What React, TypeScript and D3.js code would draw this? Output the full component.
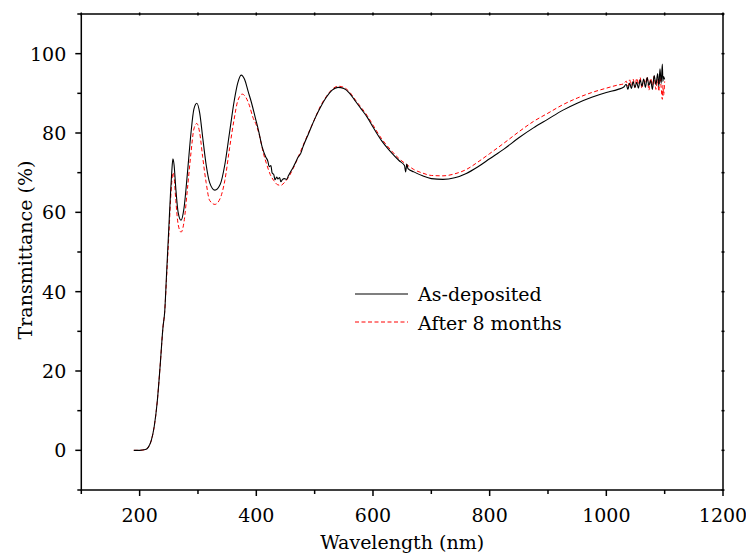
import React from "react";
import * as d3 from "d3";

const asDepW = [190, 200, 210, 215, 220, 225, 230, 235, 240, 243, 246, 250, 253, 255, 257, 259, 262, 266, 271, 276, 282, 288, 293, 298, 303, 308, 314, 320, 329, 338, 346, 354, 362, 368, 374, 380, 386, 392, 398, 404, 410, 416, 420, 422, 425, 427, 430, 432, 435, 437, 440, 442, 445, 448, 452, 455, 459, 463, 467, 472, 476, 480, 490, 500, 510, 520, 530, 540, 550, 560, 570, 580, 590, 600, 615, 630, 645, 654, 656, 658, 660, 670, 685, 700, 720, 740, 760, 780, 800, 825, 850, 875, 900, 925, 950, 975, 1000, 1020, 1030, 1034, 1037, 1040, 1043, 1046, 1049, 1052, 1055, 1058, 1061, 1064, 1067, 1070, 1073, 1076, 1079, 1082, 1085, 1088, 1090, 1092, 1094, 1096, 1097, 1098, 1100];
const asDepT = [0, 0, 0.2, 0.8, 2.5, 6, 12, 21, 31, 35, 44, 56, 65, 70, 73.5, 72, 66, 60, 58, 61, 70, 80, 86, 87.5, 85, 79, 72, 67.5, 65.6, 67, 72, 80, 88, 92.5, 94.6, 93.5, 90.5, 87.5, 84, 80.5, 76.5, 74, 72.8, 71.5, 71.8, 70, 69.5, 68.2, 68.9, 68.4, 68.8, 67.7, 68.3, 68.5, 68.3, 69.2, 70.3, 71.3, 72.5, 74, 74.8, 76.5, 80, 83.5, 86.5, 89, 90.8, 91.5, 91.2, 90, 88, 86, 84, 81.5, 78, 75.3, 73, 71.8, 70.2, 72.2, 71, 70.2, 69.2, 68.5, 68.3, 68.7, 69.8, 71.5, 73.5, 76, 78.8, 81.3, 83.5, 85.7, 87.5, 89, 90.2, 91, 91.6, 92.3, 91.0, 92.6, 91.2, 93.0, 91.4, 92.8, 91.3, 93.4, 91.8, 93.6, 91.5, 94.0, 92.0, 93.2, 91.0, 94.5, 92.2, 95.0, 91.8, 96.2, 92.5, 97.4, 93.0, 94.2, 93.5];

const agedW = [190, 200, 210, 215, 220, 225, 230, 235, 240, 243, 246, 250, 253, 255, 257, 259, 262, 266, 271, 276, 282, 288, 293, 298, 303, 308, 314, 320, 329, 338, 346, 354, 362, 368, 376, 382, 388, 394, 400, 406, 412, 418, 424, 430, 436, 442, 448, 455, 463, 472, 480, 490, 500, 510, 520, 530, 540, 550, 560, 570, 580, 590, 600, 615, 630, 645, 660, 670, 685, 700, 720, 740, 760, 780, 800, 825, 850, 875, 900, 925, 950, 975, 1000, 1020, 1030, 1034, 1037, 1040, 1043, 1046, 1049, 1052, 1055, 1058, 1061, 1064, 1067, 1070, 1073, 1076, 1079, 1082, 1085, 1088, 1090, 1092, 1094, 1096, 1097, 1098, 1100];
const agedT = [0, 0, 0.2, 0.8, 2.5, 6, 12, 21, 31, 35, 43, 54, 63, 67.5, 70, 69, 63, 57, 55, 57.5, 66, 75, 81, 82.4, 80, 74, 67.5, 63, 62, 63.5, 68, 76, 83.5, 88, 89.8, 89, 87, 84, 82, 79, 75, 72, 69.5, 68, 67, 66.8, 67.5, 68.8, 71, 74, 76.8, 80.2, 83.5, 86.8, 89.2, 91, 91.8, 91.5, 90.3, 88.3, 86.4, 84.4, 82, 78.5, 75.8, 73.5, 71.8, 70.8, 69.9, 69.3, 69.2, 69.7, 70.8, 72.7, 74.8, 77.5, 80.3, 82.9, 85, 87.1, 88.8, 90.2, 91.3, 92.1, 92.4, 93.1, 91.8, 93.4, 92.0, 93.6, 91.5, 93.8, 92.2, 94.0, 91.2, 93.5, 92.5, 94.2, 90.8, 93.8, 92.0, 94.3, 91.0, 93.5, 90.5, 94.0, 91.5, 88.5, 92.0, 89.5, 93.0];

const xTicks = [200, 400, 600, 800, 1000, 1200];
const xMinor = [100, 300, 500, 700, 900, 1100];
const yTicks = [0, 20, 40, 60, 80, 100];
const yMinor = [-10, 10, 30, 50, 70, 90, 110];
const legendLabels = ["As-deposited", "After 8 months"];

const W = 746, H = 555;
const L = 81.3, R = 723, T = 14, B = 490;
const FONT = '"DejaVu Serif", serif';
const ts: React.CSSProperties = { fontFamily: FONT, fontSize: 19 };

export default function App() {
  const x = d3.scaleLinear().domain([100, 1200]).range([L, R]);
  const y = d3.scaleLinear().domain([-10, 110]).range([B, T]);
  const line = d3
    .line<[number, number]>()
    .x((d) => x(d[0]))
    .y((d) => y(d[1]))
    .curve(d3.curveMonotoneX);
  const black = line(asDepW.map((w, i) => [w, asDepT[i]]) as [number, number][]) || "";
  const red = line(agedW.map((w, i) => [w, agedT[i]]) as [number, number][]) || "";
  const allX = d3.range(100, 1201, 100);
  const allY = d3.range(-10, 111, 10);

  return (
    <svg width={W} height={H} style={{ position: "absolute", left: 0, top: 0, background: "#fff" }}>
      <path d={red} fill="none" stroke="#ff0000" strokeWidth={1} strokeDasharray="4,2.5" />
      <path d={black} fill="none" stroke="#000" strokeWidth={1.1} />
      <rect x={L} y={T} width={R - L} height={B - T} fill="none" stroke="#000" strokeWidth={1.5} />
      {xTicks.map((t) => (
        <g key={"xt" + t}>
          <line x1={x(t)} x2={x(t)} y1={B} y2={B + 6} stroke="#000" strokeWidth={1.5} />
          <text x={x(t)} y={B + 32} textAnchor="middle" style={ts}>{t}</text>
        </g>
      ))}
      {xMinor.map((t) => (
        <line key={"xm" + t} x1={x(t)} x2={x(t)} y1={B} y2={B + 4} stroke="#000" strokeWidth={1.5} />
      ))}
      {allX.map((t) => (
        <line key={"tx" + t} x1={x(t)} x2={x(t)} y1={T - 1.5} y2={T + 1.5} stroke="#000" strokeWidth={1.5} />
      ))}
      {yTicks.map((t) => (
        <g key={"yt" + t}>
          <line x1={L - 6} x2={L} y1={y(t)} y2={y(t)} stroke="#000" strokeWidth={1.5} />
          <text x={L - 15} y={y(t) + 7} textAnchor="end" style={ts}>{t}</text>
        </g>
      ))}
      {yMinor.map((t) => (
        <line key={"ym" + t} x1={L - 4} x2={L} y1={y(t)} y2={y(t)} stroke="#000" strokeWidth={1.5} />
      ))}
      {allY.map((t) => (
        <line key={"ry" + t} x1={R - 1.5} x2={R + 1.5} y1={y(t)} y2={y(t)} stroke="#000" strokeWidth={1.5} />
      ))}
      <text x={(L + R) / 2} y={549} textAnchor="middle" style={ts}>Wavelength (nm)</text>
      <text transform={`translate(32, 250) rotate(-90)`} textAnchor="middle" style={ts}>Transmittance (%)</text>
      <line x1={355} x2={408} y1={294} y2={294} stroke="#000" strokeWidth={1.1} />
      <text x={418} y={301} style={ts}>{legendLabels[0]}</text>
      <line x1={355} x2={408} y1={322} y2={322} stroke="#ff0000" strokeWidth={1} strokeDasharray="4,2.5" />
      <text x={418} y={330} style={ts}>{legendLabels[1]}</text>
    </svg>
  );
}
